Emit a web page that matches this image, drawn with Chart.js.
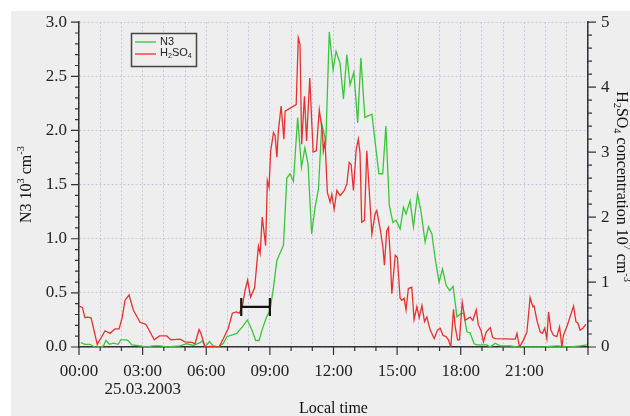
<!DOCTYPE html>
<html>
<head>
<meta charset="utf-8">
<script src="https://cdn.jsdelivr.net/npm/chart.js@4.4.1/dist/chart.umd.min.js"></script>
<style>
body { margin: 0; background: #fff; }
#wrap { width: 630px; height: 416px; }
</style>
</head>
<body>
<div id="wrap"><canvas id="myChart"></canvas></div>
<script>
// values, time in hours from 00:00 on 25.03.2003
var n3Times = [0.09, 0.28, 0.52, 0.72, 0.99, 1.15, 1.27, 1.43, 1.62, 1.85,
    1.97, 2.25, 2.36, 2.49, 2.88, 3.19, 3.50, 3.82, 4.14, 4.76,
    5.08, 5.39, 5.71, 5.82, 5.94, 6.15, 6.33, 6.57, 6.81, 6.97,
    7.44, 7.72, 7.94, 8.15, 8.33, 8.49, 8.65, 8.85, 9.01, 9.17,
    9.33, 9.64, 9.80, 9.95, 10.11, 10.31, 10.49, 10.65, 10.80, 10.97,
    11.13, 11.29, 11.45, 11.64, 11.80, 11.98, 12.12, 12.31, 12.47, 12.63,
    12.78, 12.96, 13.14, 13.29, 13.48, 13.81, 14.14, 14.32, 14.47, 14.63,
    14.80, 14.95, 15.14, 15.30, 15.42, 15.61, 15.77, 15.96, 16.12, 16.32,
    16.48, 16.64, 16.79, 16.98, 17.14, 17.31, 17.48, 17.64, 17.82, 18.02,
    18.14, 18.29, 18.44, 18.63, 18.76, 19.23, 19.39, 19.62, 19.86, 20.33,
    20.65, 21.90, 22.53, 23.16, 23.63, 23.95];
var n3Values = [0.04, 0.025, 0.025, 0, 0, 0.01, 0.06, 0.025, 0.035, 0.025,
    0.065, 0.065, 0.05, 0.02, 0.01, 0, 0.01, 0.01, 0, 0.01,
    0.03, 0.015, 0.04, 0.06, 0, 0.05, 0.01, 0, 0.035, 0.095,
    0.125, 0.19, 0.25, 0.16, 0.06, 0.06, 0.17, 0.28, 0.34, 0.55,
    0.80, 0.94, 1.56, 1.60, 1.53, 2.12, 1.66, 1.84, 1.69, 1.045,
    1.29, 1.46, 2.06, 1.90, 2.91, 2.56, 2.73, 2.62, 2.29, 2.70,
    2.42, 2.54, 2.07, 2.67, 2.12, 2.15, 1.60, 1.60, 2.04, 1.31,
    1.15, 1.17, 1.09, 1.29, 1.23, 1.35, 1.11, 1.41, 1.26, 0.97,
    1.11, 1.045, 0.82, 0.60, 0.72, 0.57, 0.52, 0.56, 0.28, 0.31,
    0.31, 0.14, 0.13, 0.03, 0.02, 0.02, 0, 0.035, 0.01, 0.01,
    0, 0, 0.01, 0, 0.01, 0.02];

var h2so4Times = [0, 0.16, 0.28, 0.39, 0.57, 0.86, 1.23, 1.46, 1.70, 1.89,
    2.04, 2.17, 2.36, 2.56, 2.88, 3.15, 3.35, 3.55, 3.79, 4.14,
    4.33, 4.76, 5.00, 5.32, 5.47, 5.66, 5.75, 5.94, 6.18, 6.60,
    6.81, 7.04, 7.23, 7.41, 7.56, 7.71, 7.83, 7.95, 8.09, 8.28,
    8.46, 8.54, 8.64, 8.80, 8.88, 8.96, 9.04, 9.17, 9.25, 9.33,
    9.40, 9.53, 9.66, 9.72, 10.24, 10.34, 10.42, 10.50, 10.63, 10.73,
    10.88, 11.04, 11.19, 11.33, 11.48, 11.52, 11.60, 11.71, 11.84, 11.92,
    12.03, 12.16, 12.31, 12.51, 12.63, 12.74, 12.83, 12.94, 13.07, 13.17,
    13.25, 13.33, 13.46, 13.57, 13.81, 13.96, 14.04, 14.20, 14.33, 14.40,
    14.51, 14.59, 14.67, 14.75, 14.91, 15.01, 15.14, 15.22, 15.33, 15.42,
    15.53, 15.69, 15.80, 15.93, 16.04, 16.17, 16.29, 16.40, 16.56, 16.75,
    16.90, 17.03, 17.16, 17.30, 17.42, 17.53, 17.66, 17.74, 17.85, 17.94,
    18.07, 18.21, 18.30, 18.44, 18.57, 18.73, 18.83, 18.95, 19.07, 19.20,
    19.39, 19.50, 19.62, 20.57, 20.65, 20.77, 20.96, 21.12, 21.27, 21.40,
    21.46, 21.59, 21.75, 21.85, 21.96, 22.06, 22.14, 22.25, 22.37, 22.53,
    22.66, 22.77, 22.84, 23.03, 23.32, 23.43, 23.52, 23.63, 23.76, 23.90];
var h2so4Values = [0.63, 0.61, 0.45, 0.46, 0.45, 0.04, 0.25, 0.21, 0.28, 0.28,
    0.46, 0.72, 0.80, 0.57, 0.38, 0.35, 0.23, 0.11, 0.17, 0.17,
    0.11, 0.12, 0.08, 0.07, 0.05, 0.27, 0.21, 0.00, 0.01, 0.00,
    0.13, 0.29, 0.52, 0.54, 0.52, 0.64, 0.87, 1.03, 0.77, 0.91,
    1.55, 1.44, 2.00, 1.56, 2.56, 2.46, 3.02, 3.30, 3.25, 2.92,
    3.32, 3.71, 3.20, 3.63, 3.73, 4.76, 4.66, 3.12, 3.86, 3.17,
    4.14, 3.00, 3.02, 3.65, 3.30, 3.02, 3.17, 2.38, 2.23, 2.35,
    2.12, 2.41, 2.33, 2.41, 2.51, 2.84, 2.81, 2.41, 3.04, 3.20,
    2.99, 1.92, 1.95, 3.02, 1.74, 2.05, 2.10, 1.82, 1.54, 1.26,
    1.79, 1.84, 1.44, 0.82, 1.41, 1.38, 0.75, 0.72, 0.75, 0.57,
    0.90, 0.92, 0.42, 0.62, 0.45, 0.64, 0.39, 0.46, 0.26, 0.13,
    0.26, 0.29, 0.18, 0.16, 0.11, 0.00, 0.58, 0.31, 0.11, 0.11,
    0.69, 0.41, 0.43, 0.46, 0.41, 0.57, 0.34, 0.26, 0.08, 0.23,
    0.30, 0.15, 0.13, 0.12, 0.21, 0.00, 0.11, 0.23, 0.76, 0.62,
    0.63, 0.41, 0.23, 0.21, 0.29, 0.13, 0.54, 0.26, 0.18, 0.16,
    0.31, 0.00, 0.18, 0.34, 0.63, 0.39, 0.37, 0.26, 0.29, 0.35];

// horizontal bar near 08:00
var errTimes = [7.65, 9.0];
var errLevel = 0.37;

var dateLabel = '25.03.2003';
var serif = '"Liberation Serif", "Times New Roman", serif';
var greenCol = '#3cc43c';
var redCol = '#e83030';

function toPoints(xs, ys) {
    return xs.map(function (x, i) { return { x: x, y: ys[i] }; });
}

function hourLabel(v) {
    if (v % 3 !== 0 || v >= 24) return '';
    var s = (v < 10 ? '0' : '') + v + ':00';
    if (v === 3) return [s, dateLabel];
    return s;
}

// text with sub/superscripts, parts = [[text, 0|'sup'|'sub'], ...]
function richText(ctx, parts, x, y, angle, size, family, align) {
    ctx.save();
    ctx.translate(x, y);
    ctx.rotate(angle);
    ctx.textBaseline = 'middle';
    ctx.textAlign = 'left';
    var widths = [], total = 0;
    parts.forEach(function (p) {
        ctx.font = (p[1] ? size * 0.65 : size) + 'px ' + family;
        var w = ctx.measureText(p[0]).width;
        widths.push(w);
        total += w;
    });
    var cx = align === 'left' ? 0 : -total / 2;
    parts.forEach(function (p, i) {
        ctx.font = (p[1] ? size * 0.65 : size) + 'px ' + family;
        var dy = p[1] === 'sup' ? -size * 0.38 : (p[1] === 'sub' ? size * 0.28 : 0);
        ctx.fillText(p[0], cx, dy);
        cx += widths[i];
    });
    ctx.restore();
}

var panel = {
    id: 'panel',
    beforeDraw: function (chart) {
        var ctx = chart.ctx;
        ctx.save();
        ctx.fillStyle = '#eeeeee';
        ctx.fillRect(11, 11, chart.width - 11, chart.height - 11);
        ctx.restore();
    }
};

var decorations = {
    id: 'decorations',
    afterDraw: function (chart) {
        var ctx = chart.ctx, a = chart.chartArea;
        var sx = chart.scales.x, sy = chart.scales.y, sy1 = chart.scales.y1;
        var i, p, len;

        // tick marks, long at labelled values
        ctx.save();
        ctx.strokeStyle = '#333';
        ctx.lineWidth = 1.2;
        ctx.beginPath();
        for (i = 0; i <= 24; i++) {
            p = sx.getPixelForValue(i);
            len = i % 3 === 0 ? 8 : 4;
            ctx.moveTo(p, a.bottom);
            ctx.lineTo(p, a.bottom + len);
        }
        for (i = 0; i <= 30; i++) {
            p = sy.getPixelForValue(i / 10);
            len = i % 5 === 0 ? 8 : 4;
            ctx.moveTo(a.left, p);
            ctx.lineTo(a.left - len, p);
        }
        for (i = 0; i <= 25; i++) {
            p = sy1.getPixelForValue(i / 5);
            len = i % 5 === 0 ? 8 : 4;
            ctx.moveTo(a.right, p);
            ctx.lineTo(a.right + len, p);
        }
        ctx.stroke();
        ctx.restore();

        // axis titles
        ctx.fillStyle = '#111';
        var midY = (a.top + a.bottom) / 2;
        richText(ctx, [['N3 10', 0], ['3', 'sup'], [' cm', 0], ['-3', 'sup']],
            27, midY, -Math.PI / 2, 16, serif);
        richText(ctx, [['H', 0], ['2', 'sub'], ['SO', 0], ['4', 'sub'],
            [' concentration 10', 0], ['7', 'sup'], [' cm', 0], ['-3', 'sup']],
            621, midY + 2, Math.PI / 2, 16, serif);
        ctx.save();
        ctx.font = '16px ' + serif;
        ctx.textAlign = 'center';
        ctx.textBaseline = 'middle';
        ctx.fillStyle = '#111';
        ctx.fillText('Local time', (a.left + a.right) / 2, 409);
        ctx.restore();

        // legend box
        ctx.save();
        ctx.fillStyle = '#eeeeee';
        ctx.fillRect(131, 33, 65, 33);
        ctx.strokeStyle = '#444';
        ctx.lineWidth = 1.5;
        ctx.strokeRect(131.5, 33.5, 65, 33);
        ctx.lineWidth = 1.3;
        ctx.strokeStyle = greenCol;
        ctx.beginPath(); ctx.moveTo(135, 42); ctx.lineTo(156, 42); ctx.stroke();
        ctx.strokeStyle = redCol;
        ctx.beginPath(); ctx.moveTo(135, 54); ctx.lineTo(156, 54); ctx.stroke();
        ctx.restore();
        ctx.fillStyle = '#222';
        richText(ctx, [['N3', 0]], 160, 42, 0, 11, '"Liberation Sans", Arial, sans-serif', 'left');
        richText(ctx, [['H', 0], ['2', 'sub'], ['SO', 0], ['4', 'sub']], 160, 53, 0, 11,
            '"Liberation Sans", Arial, sans-serif', 'left');
    }
};

var tickFont = { family: serif, size: 17, lineHeight: 1.08 };
var gridCol = 'rgba(160,160,225,0.5)';

var ctx = document.getElementById('myChart').getContext('2d');
var myChart = new Chart(ctx, {
    type: 'line',
    data: {
        datasets: [{
            label: 'N3',
            data: toPoints(n3Times, n3Values),
            yAxisID: 'y',
            borderColor: greenCol,
            borderWidth: 1.3,
            pointRadius: 0,
            tension: 0,
            order: 2
        }, {
            label: 'H2SO4',
            data: toPoints(h2so4Times, h2so4Values),
            yAxisID: 'y1',
            borderColor: redCol,
            borderWidth: 1.3,
            pointRadius: 0,
            tension: 0,
            order: 1
        }, {
            label: 'bar',
            data: toPoints(errTimes, [errLevel, errLevel]),
            yAxisID: 'y',
            borderColor: '#111',
            borderWidth: 2.2,
            pointStyle: 'line',
            rotation: 90,
            pointRadius: 9,
            pointBorderWidth: 2.2,
            pointBorderColor: '#111',
            order: 0
        }]
    },
    options: {
        responsive: true,
        maintainAspectRatio: false,
        animation: false,
        layout: { padding: { top: 21 } },
        plugins: {
            legend: { display: false },
            tooltip: { enabled: false }
        },
        scales: {
            x: {
                type: 'linear',
                min: 0,
                max: 24,
                afterFit: function (s) { s.height = 69; },
                ticks: {
                    stepSize: 1,
                    autoSkip: false,
                    maxRotation: 0,
                    padding: 15,
                    color: '#222',
                    font: tickFont,
                    callback: hourLabel
                },
                grid: { color: gridCol, lineWidth: 1, drawTicks: false },
                border: { color: '#333', width: 1.5, dash: [2, 2] }
            },
            y: {
                position: 'left',
                min: 0,
                max: 3,
                afterFit: function (s) { s.width = 79; },
                ticks: {
                    stepSize: 0.5,
                    padding: 12,
                    color: '#222',
                    font: tickFont,
                    callback: function (v) { return v.toFixed(1); }
                },
                grid: { color: gridCol, lineWidth: 1, drawTicks: false },
                border: { color: '#333', width: 1.5, dash: [2, 2] }
            },
            y1: {
                position: 'right',
                min: 0,
                max: 5,
                afterFit: function (s) { s.width = 42; },
                ticks: {
                    stepSize: 1,
                    padding: 13,
                    color: '#222',
                    font: tickFont
                },
                grid: { drawOnChartArea: false, drawTicks: false },
                border: { color: '#333', width: 1.5 }
            }
        }
    },
    plugins: [panel, decorations]
});
</script>
</body>
</html>
